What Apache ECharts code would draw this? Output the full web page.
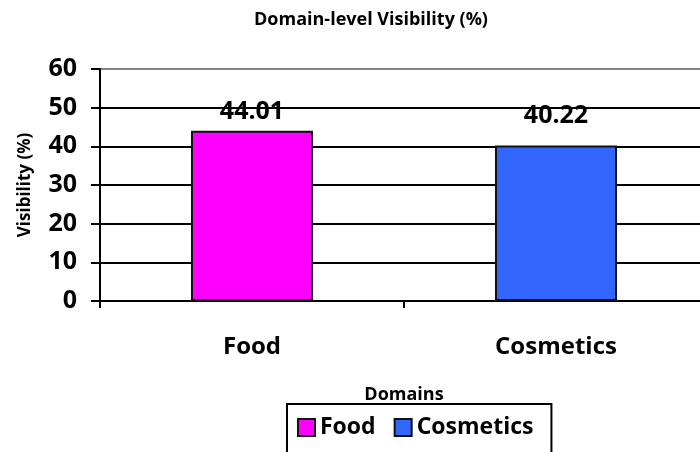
<!DOCTYPE html>
<html>
<head>
<meta charset="UTF-8">
<script src="https://cdn.jsdelivr.net/npm/echarts@6/dist/echarts.min.js"></script>
<style>
  html, body { margin: 0; padding: 0; background: #fff; }
  #chart { width: 700px; height: 452px; }
</style>
</head>
<body>
<div id="chart"></div>
<script>
var categories = ['Food', 'Cosmetics'];
var values = [44.01, 40.22];
var colors = ['#FF00FF', '#3366FF'];
var labelGaps = [6, 17];
var yTicks = [0, 10, 20, 30, 40, 50, 60];

var font = '"Open Sans", sans-serif';

var chart = echarts.init(document.getElementById('chart'));

var series = categories.map(function (name, i) {
    var data = categories.map(function (c, j) { return j === i ? values[i] : '-'; });
    return {
        name: name,
        type: 'bar',
        barWidth: 122,
        barGap: '-100%',
        data: data,
        itemStyle: { color: colors[i], borderColor: '#111', borderWidth: 2 },
        label: {
            show: true,
            position: 'top',
            distance: labelGaps[i],
            color: '#000',
            fontFamily: font,
            fontWeight: 'bold',
            fontSize: 25,
            formatter: function (p) { return p.value.toFixed(2); }
        }
    };
});

var option = {
    animation: false,
    title: {
        text: 'Domain-level Visibility (%)',
        left: 366,
        top: 6,
        textAlign: 'center',
        textStyle: { fontFamily: font, fontWeight: 'bold', fontSize: 18, color: '#000' }
    },
    legend: {
        data: categories,
        left: 287,
        top: 404,
        orient: 'horizontal',
        icon: 'rect',
        itemWidth: 17,
        itemHeight: 17,
        itemGap: 18,
        borderColor: '#000',
        borderWidth: 2,
        borderRadius: 0,
        padding: [12, 18, 30, 10],
        textStyle: { fontFamily: font, fontWeight: 'bold', fontSize: 23, color: '#000' }
    },
    grid: { left: 100, top: 69, bottom: 151, width: 608, outerBoundsMode: 'none' },
    xAxis: {
        type: 'category',
        data: categories,
        name: 'Domains',
        nameLocation: 'middle',
        nameGap: 85,
        nameTextStyle: { fontFamily: font, fontWeight: 'bold', fontSize: 18, color: '#000' },
        axisLine: { lineStyle: { color: '#000', width: 2 } },
        axisTick: { show: true, length: 7, lineStyle: { color: '#000', width: 2 } },
        axisLabel: { margin: 34, fontFamily: font, fontWeight: 'bold', fontSize: 24, color: '#000' }
    },
    yAxis: {
        type: 'value',
        min: yTicks[0],
        max: yTicks[yTicks.length - 1],
        interval: 10,
        name: 'Visibility (%)',
        nameLocation: 'middle',
        nameGap: 66,
        nameTextStyle: { fontFamily: font, fontWeight: 'bold', fontSize: 17, color: '#000' },
        axisLine: { show: true, lineStyle: { color: '#000', width: 2 } },
        axisTick: { show: true, length: 9, lineStyle: { color: '#000', width: 2 } },
        axisLabel: { margin: 23, fontFamily: font, fontWeight: 'bold', fontSize: 25, color: '#000' },
        splitLine: {
            show: true,
            lineStyle: { color: ['#000', '#000', '#000', '#000', '#000', '#000', '#808080'], width: 2 }
        }
    },
    series: series
};

chart.setOption(option);
</script>
</body>
</html>
